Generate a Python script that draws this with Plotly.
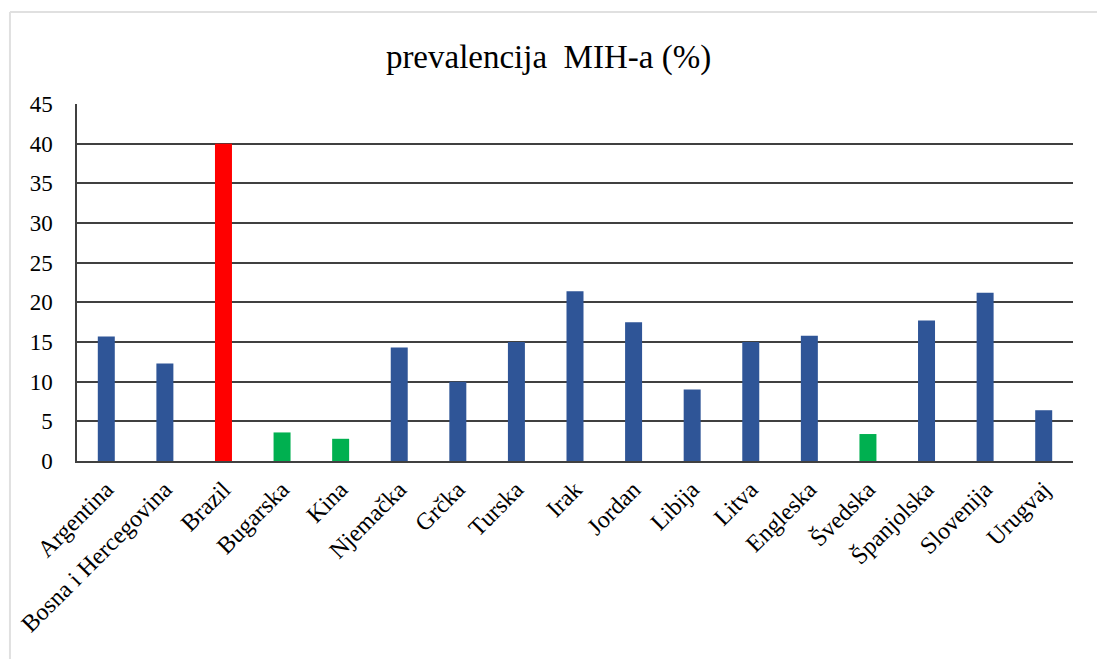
import plotly.graph_objects as go

countries = ["Argentina", "Bosna i Hercegovina", "Brazil", "Bugarska", "Kina",
             "Njemačka", "Grčka", "Turska", "Irak", "Jordan", "Libija", "Litva",
             "Engleska", "Švedska", "Španjolska", "Slovenija", "Urugvaj"]
prevalence = [15.7, 12.3, 40.0, 3.6, 2.8, 14.3, 10.0, 15.0, 21.4, 17.5, 9.0,
              15.0, 15.8, 3.4, 17.7, 21.2, 6.4]
groups = ["mid", "mid", "high", "low", "low", "mid", "mid", "mid", "mid", "mid",
          "mid", "mid", "mid", "low", "mid", "mid", "mid"]
group_colors = {"mid": "#2F5597", "high": "#FF0000", "low": "#00B050"}
y_ticks = [0, 5, 10, 15, 20, 25, 30, 35, 40, 45]

fig = go.Figure()
fig.add_trace(go.Bar(
    x=countries, y=prevalence,
    marker=dict(color=[group_colors[g] for g in groups], line=dict(width=0)),
    width=0.29,
))

font_family = "Liberation Serif, Times New Roman, serif"
fig.update_layout(
    width=1097, height=659,
    margin=dict(l=77, r=24, t=104, b=198),
    paper_bgcolor="white", plot_bgcolor="white",
    showlegend=False,
    title=dict(text="prevalencija&nbsp; MIH-a (%)", x=0.5, xref="container", xanchor="center",
               y=1 - 56 / 659, yref="container", yanchor="middle",
               font=dict(family=font_family, size=33, color="black")),
    font=dict(family=font_family, color="black"),
    xaxis=dict(tickangle=-45, tickfont=dict(family=font_family, size=24, color="black"),
               showline=True, linecolor="#404040", linewidth=2, ticks="",
               showgrid=False, range=[-0.5, 16.5], mirror=False,
               ticklabelstandoff=3),
    yaxis=dict(range=[0, 45], tickvals=y_ticks, ticks="",
               tickfont=dict(family=font_family, size=23, color="black"),
               showgrid=True, gridcolor="#404040", gridwidth=1.5,
               showline=True, linecolor="#404040", linewidth=1.5,
               zeroline=False, ticklabelstandoff=18),
)
# outer frame (light gray)
fig.add_shape(type="line", xref="paper", yref="paper", x0=-0.0673, x1=-0.0673, y0=-0.6, y1=1.258,
              line=dict(color="#E0E0E0", width=2))
fig.add_shape(type="line", xref="paper", yref="paper", x0=-0.0673, x1=1.03, y0=1.258, y1=1.258,
              line=dict(color="#E0E0E0", width=2))

fig.write_html("out.html", config={"displayModeBar": False},
               post_script="document.body.style.margin='0';")
